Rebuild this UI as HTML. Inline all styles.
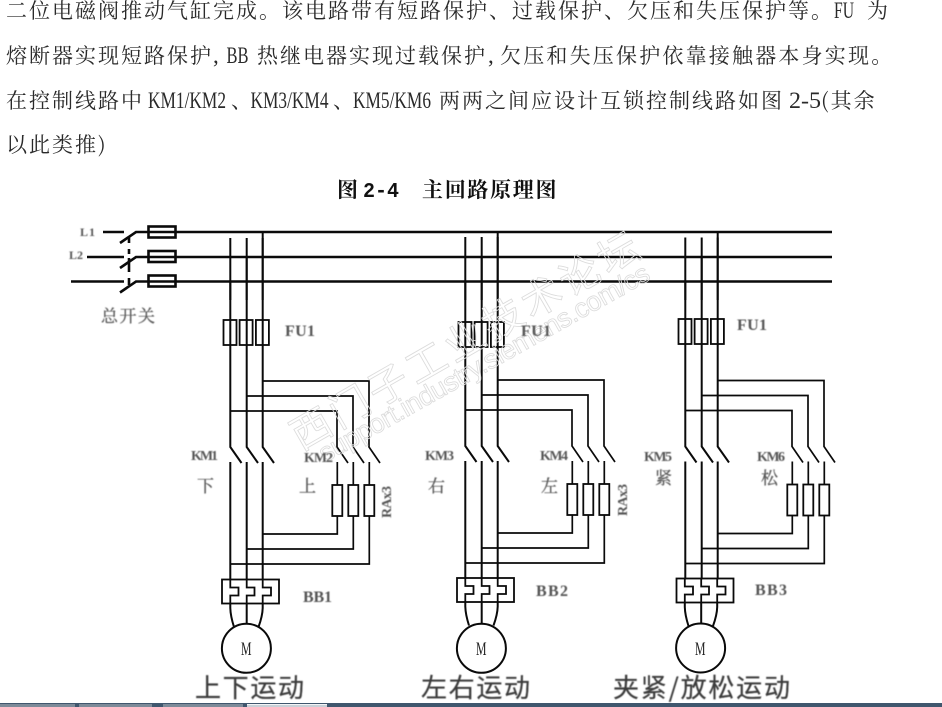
<!DOCTYPE html>
<html lang="zh">
<head>
<meta charset="utf-8">
<title>图 2-4 主回路原理图</title>
<style>
html,body{margin:0;padding:0;background:#fff}
svg{display:block}
.body{font-family:"Noto Serif CJK SC",serif;font-size:21px;letter-spacing:2px;fill:#2a2a2a}
.lat{font-family:"Liberation Serif",serif;font-size:23px;fill:#2a2a2a}
.head{font-family:"Noto Serif CJK SC",serif;font-size:21px;font-weight:700;letter-spacing:1.7px;fill:#111}
.headl{font-family:"Liberation Mono",monospace;font-size:21px;font-weight:700;fill:#111}
.lab{font-family:"Liberation Serif",serif;font-size:16px;font-weight:700;fill:#555;filter:url(#b)}
.cn{font-family:"Noto Serif CJK SC",serif;font-size:17px;fill:#555;stroke:#666;stroke-width:.35;filter:url(#b)}
.big{font-family:"Noto Sans CJK SC",sans-serif;font-size:26px;fill:#3a3a3a;stroke:#555;stroke-width:.3;filter:url(#b)}
.m{font-family:"Liberation Serif",serif;font-size:19px;fill:#222}
.wm{fill:none;stroke:#dcdcdc;stroke-width:.85}
.w{fill:none;stroke:#0a0a0a;stroke-width:2;stroke-linejoin:miter}
.t{fill:none;stroke:#0a0a0a;stroke-width:1.7}
.f{fill:none;stroke:#0a0a0a;stroke-width:1.8}
.bus{fill:none;stroke:#0a0a0a;stroke-width:2.6}
</style>
</head>
<body>
<svg width="942" height="707" viewBox="0 0 942 707" xmlns="http://www.w3.org/2000/svg">
<defs>
<filter id="b" x="-10%" y="-10%" width="120%" height="120%"><feGaussianBlur stdDeviation="0.5"/></filter>
<g id="branch">
  <path class="w" d="M230.3 238V447L241.5 463M246.7 238V447L258 463M262.7 238V447L274 463"/>
  <path class="t" d="M230.3 411H337V447L348 463M246.7 396H353V447L364 463M262.7 381H369V447L380 463"/>
  <path class="w" d="M230.3 462V580M246.7 462V580M262.7 462V580"/>
  <path class="t" d="M337.3 462V485M353.3 462V485M369.3 462V485"/>
  <rect class="f" x="332.3" y="485" width="10" height="31"/>
  <rect class="f" x="348.3" y="485" width="10" height="31"/>
  <rect class="f" x="364.3" y="485" width="10" height="31"/>
  <path class="t" d="M337.3 516V534H262.7M353.3 516V549H246.7M369.3 516V564H230.3"/>
</g>
<g id="fuse">
  <rect class="f" x="223.5" y="320" width="13" height="25"/>
  <rect class="f" x="239.6" y="320" width="13" height="25"/>
  <rect class="f" x="255.9" y="320" width="13" height="25"/>
</g>
<g id="bb">
  <rect class="f" x="222" y="579.5" width="57" height="24"/>
  <path class="f" d="M230.3 579V587.5H238.5V595.5H230.3V604M246.7 579V587.5H254.5V595.5H246.7V604M262.7 579V587.5H271V595.5H262.7V604"/>
  <path class="w" d="M230.3 603V608Q230.5 616 234 627M246.7 603V625M262.7 603V608Q262.5 616 258.5 627"/>
</g>
</defs>

<rect width="942" height="707" fill="#fff"/>

<!-- body text -->
<text class="body" x="6" y="18">二位电磁阀推动气缸完成。该电路带有短路保护、过载保护、欠压和失压保护等。</text>
<text class="lat" x="834" y="18" textLength="20" lengthAdjust="spacingAndGlyphs">FU</text>
<text class="body" x="867" y="18">为</text>

<text class="body" x="6" y="63">熔断器实现短路保护</text>
<text class="lat" x="213" y="63">,</text>
<text class="lat" x="226.5" y="63" textLength="22" lengthAdjust="spacingAndGlyphs">BB</text>
<text class="body" x="257" y="63">热继电器实现过载保护</text>
<text class="lat" x="488" y="63">,</text>
<text class="body" x="500" y="63" style="letter-spacing:2.2px">欠压和失压保护依靠接触器本身实现。</text>

<text class="body" x="6" y="108">在控制线路中</text>
<text class="lat" x="148" y="108" textLength="78" lengthAdjust="spacingAndGlyphs">KM1/KM2</text>
<text class="body" x="231" y="108">、</text>
<text class="lat" x="250.5" y="108" textLength="78" lengthAdjust="spacingAndGlyphs">KM3/KM4</text>
<text class="body" x="333" y="108">、</text>
<text class="lat" x="353" y="108" textLength="78" lengthAdjust="spacingAndGlyphs">KM5/KM6</text>
<text class="body" x="439" y="108">两两之间应设计互锁控制线路如图</text>
<text class="lat" x="789" y="108" textLength="32" lengthAdjust="spacingAndGlyphs">2-5</text>
<text class="body" x="821" y="108">(其余</text>

<text class="body" x="6" y="152">以此类推)</text>

<text class="head" x="337" y="197">图</text>
<text class="headl" x="363" y="197" textLength="36" lengthAdjust="spacingAndGlyphs">2-4</text>
<text class="head" x="422" y="197">主回路原理图</text>

<!-- main bus -->
<path class="bus" d="M103 232H124M87 257H124M71 281.5H124"/>
<path class="bus" d="M120 243L136 232H832M120 268L136 257H832M120 292.5L136 281.5H832"/>
<path class="bus" d="M129 237V243M129 249V254M129 258V272M129 278V285" stroke-width="2"/>
<rect class="bus" x="148.5" y="226.5" width="27" height="11" stroke-width="2.4"/>
<rect class="bus" x="148.5" y="251" width="27" height="11" stroke-width="2.4"/>
<rect class="bus" x="148.5" y="275.5" width="27" height="11" stroke-width="2.4"/>

<!-- group 1 -->
<path class="w" d="M230.3 281V300M246.7 257V300M262.7 232V300"/>
<use href="#fuse"/>
<use href="#branch"/>
<use href="#bb"/>
<circle cx="246.4" cy="648.3" r="24.5" fill="#fff" stroke="#0a0a0a" stroke-width="2"/>

<!-- group 2 -->
<g transform="translate(235 0)"><path class="w" d="M230.3 281V300M246.7 257V300M262.7 232V300"/></g>
<g transform="translate(235 2)"><use href="#fuse"/></g>
<g transform="translate(235 -1)"><use href="#branch"/></g>
<g transform="translate(235 -1.5)"><use href="#bb"/></g>
<circle cx="481.4" cy="648.3" r="24.5" fill="#fff" stroke="#0a0a0a" stroke-width="2"/>

<!-- group 3 -->
<g transform="translate(455 0)"><path class="w" d="M230.3 281V300M246.7 257V300M262.7 232V300"/></g>
<g transform="translate(455 -1)"><use href="#fuse"/></g>
<g transform="translate(455 -0.5)"><use href="#branch"/></g>
<g transform="translate(454.5 -1)"><use href="#bb"/></g>
<circle cx="700.6" cy="648" r="24.5" fill="#fff" stroke="#0a0a0a" stroke-width="2"/>

<!-- watermark -->
<text class="wm" transform="translate(301 451) rotate(-29.8)" font-family="'Noto Sans CJK SC',sans-serif" font-size="40" letter-spacing="4.2">西门子工业技术论坛</text>
<text class="wm" transform="translate(325 463) rotate(-29.4)" font-family="'Liberation Sans',sans-serif" font-size="27" textLength="375">support.industry.siemens.com/cs</text>

<!-- labels -->
<text class="lab" x="80" y="236" style="font-size:12px" textLength="15">L1</text>
<text class="lab" x="69" y="259" style="font-size:12px" textLength="14">L2</text>
<text class="cn" x="101" y="322" textLength="54">总开关</text>

<text class="lab" x="285" y="336" textLength="30">FU1</text>
<text class="lab" x="191" y="460" style="font-size:14px" textLength="27">KM1</text>
<text class="cn" x="197" y="492">下</text>
<text class="lab" x="304" y="462" style="font-size:14px" textLength="29">KM2</text>
<text class="cn" x="299" y="492">上</text>
<text class="lab" transform="translate(391 518) rotate(-90)" style="font-size:14px" textLength="32">RAx3</text>
<text class="lab" x="303" y="602" textLength="29">BB1</text>

<text class="lab" x="521" y="336" textLength="30">FU1</text>
<text class="lab" x="425" y="460" style="font-size:14px" textLength="29">KM3</text>
<text class="cn" x="428" y="492">右</text>
<text class="lab" x="540" y="460" style="font-size:14px" textLength="28">KM4</text>
<text class="cn" x="541" y="492">左</text>
<text class="lab" transform="translate(627 516) rotate(-90)" style="font-size:14px" textLength="32">RAx3</text>
<text class="lab" x="536" y="596" textLength="32">BB2</text>

<text class="lab" x="737" y="330" textLength="30">FU1</text>
<text class="lab" x="644" y="461" style="font-size:14px" textLength="28">KM5</text>
<text class="cn" x="655" y="484">紧</text>
<text class="lab" x="757" y="461" style="font-size:14px" textLength="28">KM6</text>
<text class="cn" x="761" y="484">松</text>
<text class="lab" x="755" y="595" textLength="32">BB3</text>

<text class="m" x="241" y="655" textLength="10.5" lengthAdjust="spacingAndGlyphs">M</text>
<text class="m" x="476" y="655" textLength="10.5" lengthAdjust="spacingAndGlyphs">M</text>
<text class="m" x="695" y="655" textLength="10.5" lengthAdjust="spacingAndGlyphs">M</text>

<text class="big" x="195" y="697" textLength="109" lengthAdjust="spacing">上下运动</text>
<text class="big" x="421" y="697" textLength="109" lengthAdjust="spacing">左右运动</text>
<text class="big" x="613" y="697" textLength="177" lengthAdjust="spacing">夹紧/放松运动</text>

<!-- bottom bar -->
<rect x="0" y="703" width="942" height="4" fill="#40576e"/>
<rect x="0" y="704" width="75" height="3" fill="#7d8b99"/>
<rect x="79" y="704" width="73" height="3" fill="#7d8b99"/>
<rect x="163" y="704" width="80" height="3" fill="#7d8b99"/>
<rect x="247" y="704" width="80" height="3" fill="#c9d0d7"/>
<rect x="247" y="704" width="80" height="1" fill="#f2f4f6"/>
</svg>
</body>
</html>
